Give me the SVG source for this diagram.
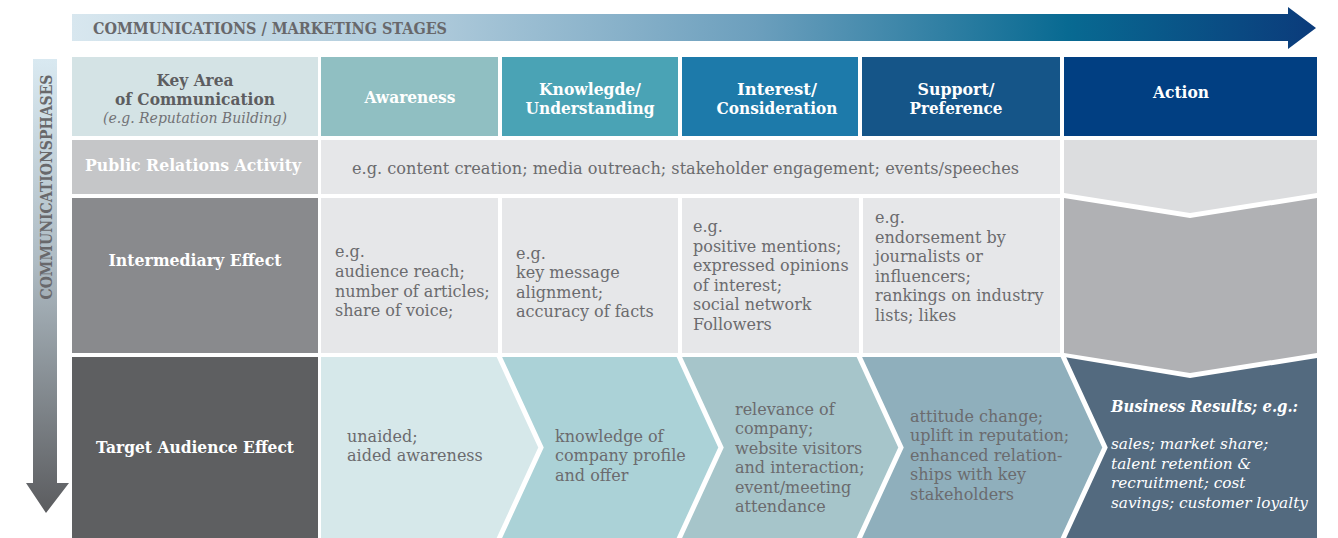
<svg xmlns="http://www.w3.org/2000/svg" width="1338" height="538" viewBox="0 0 1338 538">
<defs>
<linearGradient id="gTop" x1="72" y1="0" x2="1316" y2="0" gradientUnits="userSpaceOnUse">
<stop offset="0" stop-color="#d8e7ef"/>
<stop offset="0.3" stop-color="#abc8d9"/>
<stop offset="0.55" stop-color="#6c9fbd"/>
<stop offset="0.8" stop-color="#086a92"/>
<stop offset="1" stop-color="#0b3b7b"/>
</linearGradient>
<linearGradient id="gLeft" x1="0" y1="59" x2="0" y2="513" gradientUnits="userSpaceOnUse">
<stop offset="0" stop-color="#d9e9f1"/>
<stop offset="0.45" stop-color="#aebbc3"/>
<stop offset="1" stop-color="#5b5c5f"/>
</linearGradient>
<style>
.b{font-family:"DejaVu Serif","Liberation Serif",serif;font-weight:bold;font-size:16.5px;fill:#ffffff;text-anchor:middle}
.bd{fill:#5d5d60}
.t{font-family:"DejaVu Serif","Liberation Serif",serif;font-size:16px;fill:#6b6b6e}
.i{font-family:"DejaVu Serif","Liberation Serif",serif;font-style:italic;font-size:15.3px;fill:#ffffff}
.gap{fill:none;stroke:#ffffff;stroke-width:5;stroke-linejoin:miter}
</style>
</defs>
<rect width="1338" height="538" fill="#ffffff"/>

<g id="stages-arrow">
<polygon points="72,14 1288,14 1288,7 1316,28 1288,49 1288,41 72,41" fill="url(#gTop)"/>
<text x="93" y="34" class="b bd" style="text-anchor:start;fill:#68686b;font-size:17.5px" textLength="354" lengthAdjust="spacingAndGlyphs">COMMUNICATIONS / MARKETING STAGES</text>
</g>

<g id="phases-arrow">
<polygon points="33,59 57,59 57,483 69,483 46,513 26,483 33,483" fill="url(#gLeft)"/>
<text x="0" y="0" transform="translate(52,187) rotate(-90)" class="b bd" style="fill:#68686b;font-size:17px" textLength="225" lengthAdjust="spacingAndGlyphs">COMMUNICATIONSPHASES</text>
</g>

<g id="header-key-area">
<rect x="72" y="57" width="246" height="79" fill="#d4e3e5"/>
<text x="195" y="86" class="b bd" textLength="77" lengthAdjust="spacingAndGlyphs">Key Area</text>
<text x="195" y="105" class="b bd" textLength="160" lengthAdjust="spacingAndGlyphs">of Communication</text>
<text x="195" y="123" class="i" style="fill:#727275;text-anchor:middle;font-size:14.5px" textLength="184" lengthAdjust="spacingAndGlyphs">(e.g. Reputation Building)</text>
</g>
<g id="header-awareness">
<rect x="321" y="57" width="177" height="79" fill="#90bfc2"/>
<text x="410" y="103" class="b" textLength="91" lengthAdjust="spacingAndGlyphs">Awareness</text>
</g>
<g id="header-knowledge">
<rect x="502" y="57" width="176" height="79" fill="#4aa3b5"/>
<text x="590" y="95" class="b" textLength="102" lengthAdjust="spacingAndGlyphs">Knowlegde/</text>
<text x="590" y="114" class="b" textLength="129" lengthAdjust="spacingAndGlyphs">Understanding</text>
</g>
<g id="header-interest">
<rect x="682" y="57" width="176" height="79" fill="#1d7aaa"/>
<text x="777" y="95" class="b" textLength="80" lengthAdjust="spacingAndGlyphs">Interest/</text>
<text x="777" y="114" class="b" textLength="121" lengthAdjust="spacingAndGlyphs">Consideration</text>
</g>
<g id="header-support">
<rect x="862" y="57" width="198" height="79" fill="#155588"/>
<text x="956" y="95" class="b" textLength="77" lengthAdjust="spacingAndGlyphs">Support/</text>
<text x="956" y="114" class="b" textLength="93" lengthAdjust="spacingAndGlyphs">Preference</text>
</g>
<g id="header-action">
<rect x="1064" y="57" width="253" height="79" fill="#013f82"/>
<text x="1181" y="98" class="b" textLength="56" lengthAdjust="spacingAndGlyphs">Action</text>
</g>

<g id="pr-label">
<rect x="72" y="140" width="246" height="54" fill="#c5c6c8"/>
<text x="193" y="171" class="b" textLength="216" lengthAdjust="spacingAndGlyphs">Public Relations Activity</text>
</g>
<g id="pr-activity">
<rect x="321" y="140" width="739" height="54" fill="#e6e7e9"/>
<text x="352" y="174" class="t" textLength="667" lengthAdjust="spacingAndGlyphs">e.g. content creation; media outreach; stakeholder engagement; events/speeches</text>
</g>
<g id="pr-action">
<polygon points="1064,140 1317,140 1317,193 1190,213 1064,193" fill="#dcdddf"/>
</g>

<g id="intermediary-label">
<rect x="72" y="198" width="246" height="155" fill="#898a8d"/>
<text x="195" y="266" class="b" textLength="173" lengthAdjust="spacingAndGlyphs">Intermediary Effect</text>
</g>
<g id="intermediary-awareness">
<rect x="321" y="198" width="177" height="155" fill="#e6e7e9"/>
<text class="t"><tspan x="335" y="257">e.g.</tspan><tspan x="335" y="277">audience reach;</tspan><tspan x="335" y="297">number of articles;</tspan><tspan x="335" y="316">share of voice;</tspan></text>
</g>
<g id="intermediary-knowledge">
<rect x="502" y="198" width="176" height="155" fill="#e6e7e9"/>
<text class="t"><tspan x="516" y="259">e.g.</tspan><tspan x="516" y="278">key message</tspan><tspan x="516" y="298">alignment;</tspan><tspan x="516" y="317">accuracy of facts</tspan></text>
</g>
<g id="intermediary-interest">
<rect x="682" y="198" width="177" height="155" fill="#e6e7e9"/>
<text class="t"><tspan x="693" y="232">e.g.</tspan><tspan x="693" y="252">positive mentions;</tspan><tspan x="693" y="271">expressed opinions</tspan><tspan x="693" y="291">of interest;</tspan><tspan x="693" y="310">social network</tspan><tspan x="693" y="330">Followers</tspan></text>
</g>
<g id="intermediary-support">
<rect x="863" y="198" width="197" height="155" fill="#e6e7e9"/>
<text class="t"><tspan x="875" y="223">e.g.</tspan><tspan x="875" y="243">endorsement by</tspan><tspan x="875" y="262">journalists or</tspan><tspan x="875" y="282">influencers;</tspan><tspan x="875" y="301">rankings on industry</tspan><tspan x="875" y="321">lists; likes</tspan></text>
</g>
<g id="intermediary-action">
<polygon points="1064,198 1190,218 1317,198 1317,353 1190,373 1064,353" fill="#b0b1b4"/>
</g>

<g id="target-label">
<rect x="72" y="357" width="246" height="181" fill="#5e5f61"/>
<text x="195" y="453" class="b" textLength="198" lengthAdjust="spacingAndGlyphs">Target Audience Effect</text>
</g>
<g id="target-awareness">
<polygon points="321,357 498,357 541,447.5 498,538 321,538" fill="#d6e8ea"/>
<text class="t"><tspan x="347" y="442">unaided;</tspan><tspan x="347" y="461">aided awareness</tspan></text>
</g>
<g id="target-knowledge">
<polygon points="498,357 678,357 721,447.5 678,538 498,538 541,447.5" fill="#abd2d7"/>
<text class="t"><tspan x="555" y="442">knowledge of</tspan><tspan x="555" y="461">company profile</tspan><tspan x="555" y="481">and offer</tspan></text>
</g>
<g id="target-interest">
<polygon points="678,357 858,357 901,447.5 858,538 678,538 721,447.5" fill="#a6c5ca"/>
<text class="t"><tspan x="735" y="415">relevance of</tspan><tspan x="735" y="434">company;</tspan><tspan x="735" y="454">website visitors</tspan><tspan x="735" y="473">and interaction;</tspan><tspan x="735" y="493">event/meeting</tspan><tspan x="735" y="512">attendance</tspan></text>
</g>
<g id="target-support">
<polygon points="858,357 1062,357 1105,447.5 1062,538 858,538 901,447.5" fill="#8fafbc"/>
<text class="t"><tspan x="910" y="422">attitude change;</tspan><tspan x="910" y="441">uplift in reputation;</tspan><tspan x="910" y="461">enhanced relation-</tspan><tspan x="910" y="480">ships with key</tspan><tspan x="910" y="500">stakeholders</tspan></text>
</g>
<g id="target-action">
<polygon points="1062,357 1064,357 1190,378 1317,358 1317,538 1062,538 1105,447.5" fill="#536a7f"/>
<text x="1111" y="412" class="i" style="font-weight:bold;font-size:16px" textLength="187" lengthAdjust="spacingAndGlyphs">Business Results; e.g.:</text>
<text class="i"><tspan x="1111" y="449">sales; market share;</tspan><tspan x="1111" y="469">talent retention &amp;</tspan><tspan x="1111" y="488">recruitment; cost</tspan><tspan x="1111" y="508">savings; customer loyalty</tspan></text>
</g>

<g id="connectors">
<polyline class="gap" points="498,354 541,447.5 498,541"/>
<polyline class="gap" points="678,354 721,447.5 678,541"/>
<polyline class="gap" points="858,354 901,447.5 858,541"/>
<polyline class="gap" points="1062,354 1105,447.5 1062,541"/>
</g>
</svg>
